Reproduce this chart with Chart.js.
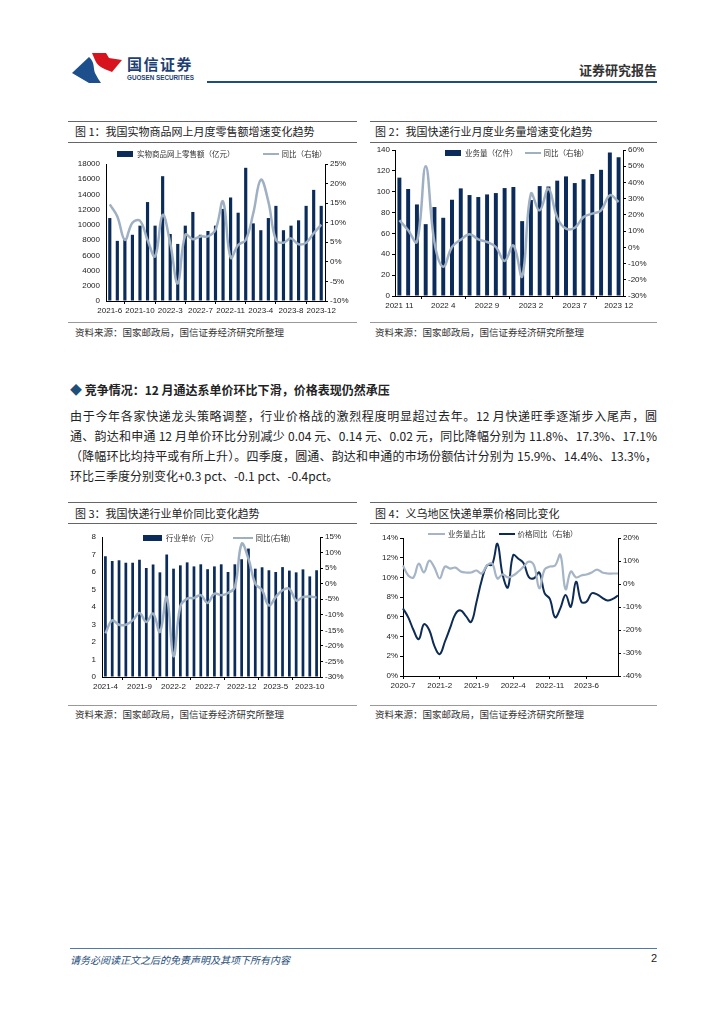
<!DOCTYPE html>
<html>
<head>
<meta charset="utf-8">
<script src="https://cdn.jsdelivr.net/npm/chart.js@4.4.1/dist/chart.umd.min.js"></script>
<style>
  body { margin: 0; background: #fff; }
  #page { position: relative; width: 724px; height: 1024px; overflow: hidden; font-family: "Noto Sans CJK SC", "Noto Sans", sans-serif; color: #222; }
  .abs { position: absolute; white-space: nowrap; }
  .hline { position: absolute; height: 1px; background: #666; }
  .ftitle { position: absolute; font-size: 11px; line-height: 14px; color: #222; }
  .src { position: absolute; font-size: 9.5px; line-height: 12px; color: #333; }
  .box { position: absolute; }
  .legend { position: absolute; font-size: 7.5px; line-height: 10px; color: #333; white-space: nowrap; }
  .legend span { display: inline-block; vertical-align: middle; }
  .sw-bar { width: 16px; height: 6px; background: #0b2c5a; margin-right: 4px; }
  .sw-line { width: 16px; height: 2.5px; background: #9fb0c3; margin-right: 3px; }
  .sw-dark { width: 16px; height: 2.5px; background: #0d2b55; margin-right: 3px; }
  .para { position: absolute; left: 70px; width: 587px; font-size: 12px; line-height: 16px; white-space: nowrap; }
  .just { text-align: justify; text-align-last: justify; }
</style>
</head>
<body>
<div id="page">
  <!-- 页眉 -->
  <svg class="abs" style="left:68px;top:50px" width="60" height="36" viewBox="68 50 60 36">
    <path d="M72,73 L89,57 C95,62 93,68 95,73 C97,77 99,80 101,83 L89,83 Z" fill="#1c4f8c"/>
    <path d="M92,53 L106,53 L109,58 L122,60 L112,72 C104,69 97,66 95,60 Z" fill="#d7141e"/>
  </svg>
  <div class="abs" style="left:127px;top:56px;font-size:15px;line-height:16px;font-weight:bold;color:#1d3f73;letter-spacing:1.5px;">国信证券</div>
  <div class="abs" style="left:127px;top:74px;font-size:6.3px;line-height:7px;font-weight:bold;color:#1d3f73;font-family:'Liberation Sans',sans-serif;">GUOSEN SECURITIES</div>
  <div class="abs" style="right:67px;top:60px;font-size:13px;font-weight:bold;color:#333;">证券研究报告</div>
  <div class="abs" style="left:207px;top:81px;width:450px;height:2px;background:#1f4e79;"></div>

  <!-- 图1 / 图2 框 -->
  <div class="hline" style="left:68px;top:121px;width:289px;"></div>
  <div class="hline" style="left:68px;top:142px;width:289px;"></div>
  <div class="ftitle" style="left:75px;top:124px;">图 1：我国实物商品网上月度零售额增速变化趋势</div>
  <div class="hline" style="left:370px;top:121px;width:287px;"></div>
  <div class="hline" style="left:370px;top:142px;width:287px;"></div>
  <div class="ftitle" style="left:375px;top:124px;">图 2：我国快递行业月度业务量增速变化趋势</div>

  <div class="box" style="left:70px;top:140px;"><canvas id="c1" width="287" height="180"></canvas></div>
  <div class="box" style="left:370px;top:140px;"><canvas id="c2" width="287" height="180"></canvas></div>

  <div class="legend" style="left:117px;top:148px;"><span class="sw-bar"></span><span>实物商品网上零售额（亿元）</span><span style="width:28px"></span><span class="sw-line"></span><span>同比（右轴）</span></div>
  <div class="legend" style="left:445px;top:147px;"><span class="sw-bar"></span><span>业务量（亿件）</span><span style="width:7px"></span><span class="sw-line"></span><span>同比（右轴）</span></div>

  <div class="hline" style="left:68px;top:322px;width:289px;background:#999;"></div>
  <div class="hline" style="left:370px;top:322px;width:287px;background:#999;"></div>
  <div class="src" style="left:75px;top:326px;">资料来源：国家邮政局，国信证券经济研究所整理</div>
  <div class="src" style="left:375px;top:326px;">资料来源：国家邮政局，国信证券经济研究所整理</div>

  <!-- 正文 -->
  <div class="abs" style="left:70px;top:381px;font-size:12px;font-weight:bold;color:#222;"><span style="color:#1f4e79;">◆</span> 竞争情况：12 月通达系单价环比下滑，价格表现仍然承压</div>
  <div class="para just" style="top:408px;">由于今年各家快递龙头策略调整，行业价格战的激烈程度明显超过去年。12 月快递旺季逐渐步入尾声，圆</div>
  <div class="para just" style="top:428px;">通、韵达和申通 12 月单价环比分别减少 0.04 元、0.14 元、0.02 元，同比降幅分别为 11.8%、17.3%、17.1%</div>
  <div class="para just" style="top:448px;">（降幅环比均持平或有所上升）。四季度，圆通、韵达和申通的市场份额估计分别为 15.9%、14.4%、13.3%，</div>
  <div class="para" style="top:468px;">环比三季度分别变化+0.3 pct、-0.1 pct、-0.4pct。</div>

  <!-- 图3 / 图4 框 -->
  <div class="hline" style="left:68px;top:502px;width:289px;"></div>
  <div class="hline" style="left:68px;top:523px;width:289px;"></div>
  <div class="ftitle" style="left:75px;top:506px;">图 3：我国快递行业单价同比变化趋势</div>
  <div class="hline" style="left:370px;top:502px;width:287px;"></div>
  <div class="hline" style="left:370px;top:523px;width:287px;"></div>
  <div class="ftitle" style="left:375px;top:506px;">图 4：义乌地区快递单票价格同比变化</div>

  <div class="box" style="left:70px;top:525px;"><canvas id="c3" width="287" height="178"></canvas></div>
  <div class="box" style="left:370px;top:525px;"><canvas id="c4" width="287" height="178"></canvas></div>

  <div class="legend" style="left:143px;top:532px;"><span class="sw-bar" style="width:19px"></span><span>行业单价（元）</span><span style="width:14px"></span><span class="sw-line" style="width:20px"></span><span>同比(右轴)</span></div>
  <div class="legend" style="left:428px;top:528px;"><span class="sw-line" style="width:17px;background:#a5b5c6"></span><span>业务量占比</span><span style="width:13px"></span><span class="sw-dark"></span><span>价格同比（右轴）</span></div>

  <div class="hline" style="left:68px;top:705px;width:289px;background:#999;"></div>
  <div class="hline" style="left:370px;top:705px;width:287px;background:#999;"></div>
  <div class="src" style="left:75px;top:708px;">资料来源：国家邮政局，国信证券经济研究所整理</div>
  <div class="src" style="left:375px;top:708px;">资料来源：国家邮政局，国信证券经济研究所整理</div>

  <!-- 页脚 -->
  <div class="abs" style="left:70px;top:948px;width:587px;height:1px;background:#4f7aa6;"></div>
  <div class="abs" style="left:70px;top:952px;font-size:10px;font-style:italic;color:#1f4e79;">请务必阅读正文之后的免责声明及其项下所有内容</div>
  <div class="abs" style="right:67px;top:952px;font-size:11px;color:#222;font-family:'Liberation Sans',sans-serif;">2</div>
</div>

<script>
// 图1：实物商品网上零售额
var months1 = ['2021-6','2021-7','2021-8','2021-9','2021-10','2021-11','2021-12',
  '2022-2','2022-3','2022-4','2022-5','2022-6','2022-7','2022-8','2022-9','2022-10','2022-11','2022-12',
  '2023-2','2023-3','2023-4','2023-5','2023-6','2023-7','2023-8','2023-9','2023-10','2023-11','2023-12'];
var retail = [10900, 7900, 8200, 8700, 9900, 13000, 9900, 16400, 8800, 7500, 9900, 11700, 8700, 9200, 9900,
  12100, 13600, 11600, 17500, 10200, 9300, 10900, 12500, 9300, 9900, 10600, 12500, 14600, 12500];
var retailYoy = [14.7, 11.6, 5.6, 10.0, 10.5, 5.6, 1.4, 12.0, 4.8, -5.5, 6.9, 5.8, 6.5, 6.5, 8.2,
  15.4, 1.1, 4.3, 5.6, 12.4, 21.0, 15.4, 5.6, 4.9, 6.0, 4.5, 4.9, 7.3, 9.5];

// 图2：快递业务量
var months2 = ['2021 11','2021 12','2022 1','2022 2','2022 3','2022 4','2022 5','2022 6','2022 7','2022 8',
  '2022 9','2022 10','2022 11','2022 12','2023 1','2023 2','2023 3','2023 4','2023 5','2023 6','2023 7',
  '2023 8','2023 9','2023 10','2023 11','2023 12'];
var volume = [113.5, 102.6, 87.8, 68.9, 85.3, 75.0, 92.3, 103.2, 96.8, 94.9, 97.4, 98.7, 103.5, 104.5,
  71.8, 92.0, 105.4, 105.0, 110.6, 114.7, 108.3, 111.9, 117.0, 121.0, 137.5, 133.0];
var volumeYoy = [16.7, 10.5, 3.3, 50, 3, -12, 0.2, 4.7, 8, 4.9, 3.3, 0.2, -8.4, 1.2,
  -17.9, 33, 22.8, 36.2, 18.3, 11.5, 12.1, 18.7, 20.8, 22.8, 32.1, 28];

// 图3：行业单价
var months3 = ['2021-4','2021-5','2021-6','2021-7','2021-8','2021-9','2021-10','2021-11','2021-12',
  '2022-1','2022-2','2022-3','2022-4','2022-5','2022-6','2022-7','2022-8','2022-9','2022-10','2022-11','2022-12',
  '2023-1','2023-2','2023-3','2023-4','2023-5','2023-6','2023-7','2023-8','2023-9','2023-10','2023-11'];
var price = [6.9, 6.63, 6.67, 6.53, 6.53, 6.7, 6.23, 6.43, 5.98, 7.0, 6.19, 6.38, 6.55, 6.32, 6.44, 6.16,
  6.32, 6.44, 6.0, 6.44, 6.73, 7.34, 6.19, 6.27, 6.1, 6.0, 6.28, 6.08, 5.98, 6.15, 5.75, 6.1];
var priceYoy = [-16, -11.8, -13.2, -13.2, -11.8, -9.4, -12.3, -9.6, -15.5, -4.3, -23.3, -7.3, -4.8, -4.6,
  -3.7, -6.2, -3.2, -3.7, -3, -1.1, 12.8, 8, 0, -2.1, -7, -4.3, -2.1, -1.6, -5.4, -4.3, -4.1, -4.5];

// 图4：义乌
var months4 = ['2020-7','2020-8','2020-9','2020-10','2020-11','2020-12','2021-1','2021-2','2021-3','2021-4',
  '2021-5','2021-6','2021-7','2021-8','2021-9','2021-10','2021-11','2021-12','2022-1','2022-2','2022-3',
  '2022-4','2022-5','2022-6','2022-7','2022-8','2022-9','2022-10','2022-11','2022-12','2023-1','2023-2',
  '2023-3','2023-4','2023-5','2023-6','2023-7','2023-8','2023-9','2023-10','2023-11','2023-12'];
var yiwuShare = [11.2, 10.2, 10.0, 11.4, 10.5, 11.7, 11.0, 9.9, 11.1, 10.9, 11.0, 10.6, 10.5, 10.5, 10.7,
  10.4, 11.2, 11.4, 9.9, 10.3, 10.0, 10.2, 10.6, 11.1, 11.6, 11.2, 8.9, 10.8, 11.1, 11.2, 12.3, 8.8,
  10.6, 10.0, 10.2, 10.3, 10.5, 10.8, 10.5, 10.4, 10.4, 10.4];
var yiwuPriceYoy = [-10.6, -14.5, -20, -24, -17.5, -20, -27, -30.5, -25, -19, -13, -11.5, -14, -16.5, -8,
  1.5, 8, 8.5, 17.5, 4, -1.5, 12.5, 11, 9, 3, 2.5, 5, -4, -6.5, -14.5, -10.6, -4.8, -9.9, 1, -7.7, -7.7,
  -4, -4.5, -6, -7.2, -6.5, -5];

var navy = '#0b2c5a';
var grey = '#9fb0c3';
var tickFont = { family: 'Liberation Sans, Arial, sans-serif', size: 8 };

function xAxis(step, h, offset) {
  return {
    type: 'category',
    offset: offset,
    grid: { drawOnChartArea: false, drawTicks: true, tickLength: 3, color: '#000' },
    border: { display: true, color: '#000' },
    ticks: {
      autoSkip: false, maxRotation: 0, minRotation: 0, padding: 2, color: '#222', font: tickFont,
      callback: function (v, i) { return i % step === 0 ? this.getLabelForValue(v) : null; }
    },
    afterFit: function (s) { s.height = h; }
  };
}

function yAxis(pos, min, max, step, w, pct, ticks) {
  return {
    position: pos, min: min, max: max,
    grid: { drawOnChartArea: false, drawTicks: ticks, tickLength: 3, color: '#000' },
    border: { display: true, color: '#000' },
    ticks: {
      stepSize: step, color: '#222', font: tickFont, padding: ticks ? 2 : 6,
      callback: function (v) { return pct ? v + '%' : v; }
    },
    afterFit: function (s) { s.width = w; }
  };
}

function commonOptions(padTop, scales) {
  return {
    responsive: false,
    animation: false,
    layout: { padding: { top: padTop, left: 0, right: 0, bottom: 0 } },
    plugins: { legend: { display: false }, tooltip: { enabled: false } },
    scales: scales
  };
}

new Chart(document.getElementById('c1'), {
  data: {
    labels: months1,
    datasets: [
      { type: 'line', data: retailYoy, yAxisID: 'y1', borderColor: grey, borderWidth: 2.5, pointRadius: 0, tension: 0.4, order: 0 },
      { type: 'bar', data: retail, yAxisID: 'y', backgroundColor: navy, barPercentage: 0.42, categoryPercentage: 1, order: 1 }
    ]
  },
  options: commonOptions(24, {
    x: xAxis(4, 19, true),
    y: yAxis('left', 0, 18000, 2000, 36, false, false),
    y1: yAxis('right', -10, 25, 5, 32, true, true)
  })
});

new Chart(document.getElementById('c2'), {
  data: {
    labels: months2,
    datasets: [
      { type: 'line', data: volumeYoy, yAxisID: 'y1', borderColor: grey, borderWidth: 2.5, pointRadius: 0, tension: 0.4, order: 0 },
      { type: 'bar', data: volume, yAxisID: 'y', backgroundColor: navy, barPercentage: 0.45, categoryPercentage: 1, order: 1 }
    ]
  },
  options: commonOptions(10, {
    x: xAxis(5, 24, true),
    y: yAxis('left', 0, 140, 20, 25, false, true),
    y1: yAxis('right', -30, 60, 10, 34, true, true)
  })
});

new Chart(document.getElementById('c3'), {
  data: {
    labels: months3,
    datasets: [
      { type: 'line', data: priceYoy, yAxisID: 'y1', borderColor: grey, borderWidth: 2.5, pointRadius: 0, tension: 0.4, order: 0 },
      { type: 'bar', data: price, yAxisID: 'y', backgroundColor: navy, barPercentage: 0.4, categoryPercentage: 1, order: 1 }
    ]
  },
  options: commonOptions(12, {
    x: xAxis(5, 26, true),
    y: yAxis('left', 0, 8, 1, 32, false, false),
    y1: yAxis('right', -30, 15, 5, 37, true, true)
  })
});

new Chart(document.getElementById('c4'), {
  type: 'line',
  data: {
    labels: months4,
    datasets: [
      { data: yiwuShare, yAxisID: 'y', borderColor: '#a5b5c6', borderWidth: 2.2, pointRadius: 0, tension: 0.4 },
      { data: yiwuPriceYoy, yAxisID: 'y1', borderColor: '#0d2b55', borderWidth: 2, pointRadius: 0, tension: 0.4 }
    ]
  },
  options: commonOptions(13, {
    x: xAxis(7, 27, false),
    y: yAxis('left', 0, 14, 2, 33, true, true),
    y1: yAxis('right', -40, 20, 10, 39, true, true)
  })
});
</script>
</body>
</html>
